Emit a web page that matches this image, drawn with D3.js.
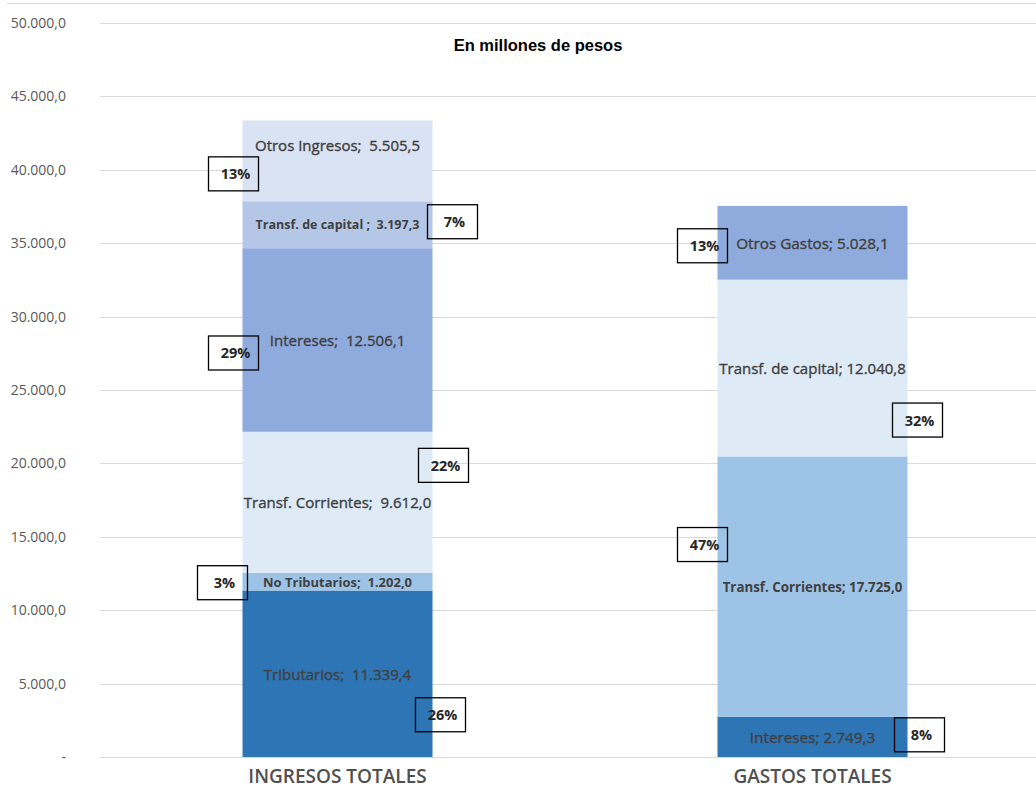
<!DOCTYPE html>
<html lang="es">
<head>
<meta charset="UTF-8"/>
<title>Ingresos y gastos totales</title>
<script src="https://d3js.org/d3.v7.min.js"></script>
<style>
    body { margin: 0; background: #fff; }
    text { font-family: "Open Sans", "Noto Sans", sans-serif; white-space: pre; }
    .grid line { stroke: #d9d9d9; stroke-width: 1px; shape-rendering: crispEdges; }
    .yAxis text { fill: #595959; font-size: 14px; }
    .xAxis text { fill: #505050; font-size: 19px; font-weight: 600; }
</style>
</head>
<body>
<div id="chart"></div>
<script>
    // data
    const categories = ["INGRESOS TOTALES", "GASTOS TOTALES"];

    const ingresosNames = ["Tributarios", "No Tributarios", "Transf. Corrientes", "Intereses", "Transf. de capital ", "Otros Ingresos"];
    const ingresosValues = [11339.4, 1202.0, 9612.0, 12506.1, 3197.3, 5505.5];
    const ingresosPct = ["26%", "3%", "22%", "29%", "7%", "13%"];

    const gastosNames = ["Intereses", "Transf. Corrientes", "Transf. de capital", "Otros Gastos"];
    const gastosValues = [2749.3, 17725.0, 12040.8, 5028.1];
    const gastosPct = ["8%", "47%", "32%", "13%"];

    const yTicks = [0, 5000, 10000, 15000, 20000, 25000, 30000, 35000, 40000, 45000, 50000];

    // styles / layout
    const ingresosColors = ["#2e75b6", "#9dc3e6", "#deebf7", "#8faadc", "#b4c7e7", "#dae3f3"];
    const gastosColors = ["#2e75b6", "#9dc3e6", "#deebf7", "#8faadc"];
    // label styling per segment: [font-size, weight, sep, extra dy]
    const ingresosLabelStyle = [[15, 400, ";  ", 0], [13, 700, ";  ", 0], [15, 400, ";  ", 0], [15, 400, ";  ", 0], [12.5, 700, ";  ", 0], [15, 400, ";  ", -16]];
    const gastosLabelStyle = [[15.3, 400, "; ", 0], [13.3, 700, "; ", 0], [15, 400, "; ", 0], [15.3, 400, "; ", 0]];
    // percentage boxes: [side, dx from bar edge, dy from segment middle]
    const ingresosPctPos = [["r", 8, 41], ["l", -20, 1], ["r", 11, -37], ["l", -9, 13], ["r", 20, -3], ["l", -9, 13]];
    const gastosPctPos = [["r", 12, -2], ["l", -15, -42], ["r", 10, 52], ["l", -15, 3]];

    const width = 1036, height = 790;
    const svg = d3.select("#chart").append("svg")
        .attr("width", width)
        .attr("height", height);

    const x = d3.scaleBand()
        .domain(categories)
        .range([100, 1050])
        .paddingInner(0.6)
        .paddingOuter(0.3);

    const y = d3.scaleLinear()
        .domain([0, 50000])
        .range([757, 23]);

    const locale = d3.formatLocale({decimal: ",", thousands: ".", grouping: [3], currency: ["$", ""]});
    const fmt1 = locale.format(",.1f");

    // chart area top border
    svg.append("line")
        .attr("x1", 7).attr("x2", width)
        .attr("y1", 3.5).attr("y2", 3.5)
        .attr("stroke", "#d9d9d9");

    // grid lines
    svg.append("g")
        .attr("class", "grid")
        .selectAll("line")
        .data(yTicks)
        .join("line")
        .attr("x1", 100).attr("x2", width)
        .attr("y1", d => Math.round(y(d)) + 0.5)
        .attr("y2", d => Math.round(y(d)) + 0.5);

    // Y axis
    svg.append("g")
        .attr("class", "yAxis")
        .attr("transform", "translate(66,0)")
        .call(d3.axisLeft(y).tickValues(yTicks).tickSize(0).tickPadding(0)
            .tickFormat(d => d === 0 ? "-" : fmt1(d)))
        .call(g => g.select(".domain").remove());

    // X axis
    svg.append("g")
        .attr("class", "xAxis")
        .attr("transform", "translate(0,757)")
        .call(d3.axisBottom(x).tickSize(0).tickPadding(13))
        .call(g => g.select(".domain").remove());

    // title
    svg.append("text")
        .attr("x", 538).attr("y", 51)
        .attr("text-anchor", "middle")
        .style("font-family", "'Liberation Sans', Arial, sans-serif")
        .style("font-weight", "bold")
        .style("font-size", "16.5px")
        .style("fill", "#000")
        .text("En millones de pesos");

    function drawStack(cat, names, values, pcts, colors, styles, pctPos) {
        const stack = [];
        let acc = 0;
        values.forEach((v, i) => {
            stack.push({name: names[i], value: v, y0: acc, y1: acc + v, pct: pcts[i], color: colors[i], style: styles[i], pos: pctPos[i]});
            acc += v;
        });

        const g = svg.append("g");
        const x0 = x(cat), bw = x.bandwidth();

        g.selectAll("rect")
            .data(stack)
            .join("rect")
            .attr("x", x0)
            .attr("width", bw)
            .attr("y", d => y(d.y1))
            .attr("height", d => y(d.y0) - y(d.y1))
            .attr("fill", d => d.color);

        // category; value labels, regular ones get a hair stroke to look medium
        g.selectAll("text.lbl")
            .data(stack)
            .join("text")
            .attr("class", "lbl")
            .attr("x", x0 + bw / 2)
            .attr("y", d => y((d.y0 + d.y1) / 2) + d.style[3])
            .attr("dominant-baseline", "central")
            .attr("text-anchor", "middle")
            .style("font-size", d => d.style[0] + "px")
            .style("font-weight", d => d.style[1])
            .style("fill", "#404040")
            .style("stroke", d => d.style[1] < 700 ? "#404040" : "none")
            .style("stroke-width", 0.35)
            .text(d => d.name + d.style[2] + fmt1(d.value));

        const boxes = g.selectAll("g.pct")
            .data(stack)
            .join("g")
            .attr("class", "pct")
            .attr("transform", d => {
                const cx = (d.pos[0] === "l" ? x0 : x0 + bw) + d.pos[1];
                const cy = y((d.y0 + d.y1) / 2) + d.pos[2];
                return "translate(" + cx + "," + cy + ")";
            });
        boxes.append("rect")
            .attr("x", -25).attr("y", -17)
            .attr("width", 50).attr("height", 34)
            .attr("fill", "none")
            .attr("stroke", "#000")
            .attr("stroke-width", 1.3);
        boxes.append("text")
            .attr("x", 2)
            .attr("dominant-baseline", "central")
            .attr("text-anchor", "middle")
            .style("font-size", "14.5px")
            .style("font-weight", "bold")
            .style("fill", "#262626")
            .text(d => d.pct);
    }

    drawStack(categories[0], ingresosNames, ingresosValues, ingresosPct, ingresosColors, ingresosLabelStyle, ingresosPctPos);
    drawStack(categories[1], gastosNames, gastosValues, gastosPct, gastosColors, gastosLabelStyle, gastosPctPos);
</script>
</body>
</html>
